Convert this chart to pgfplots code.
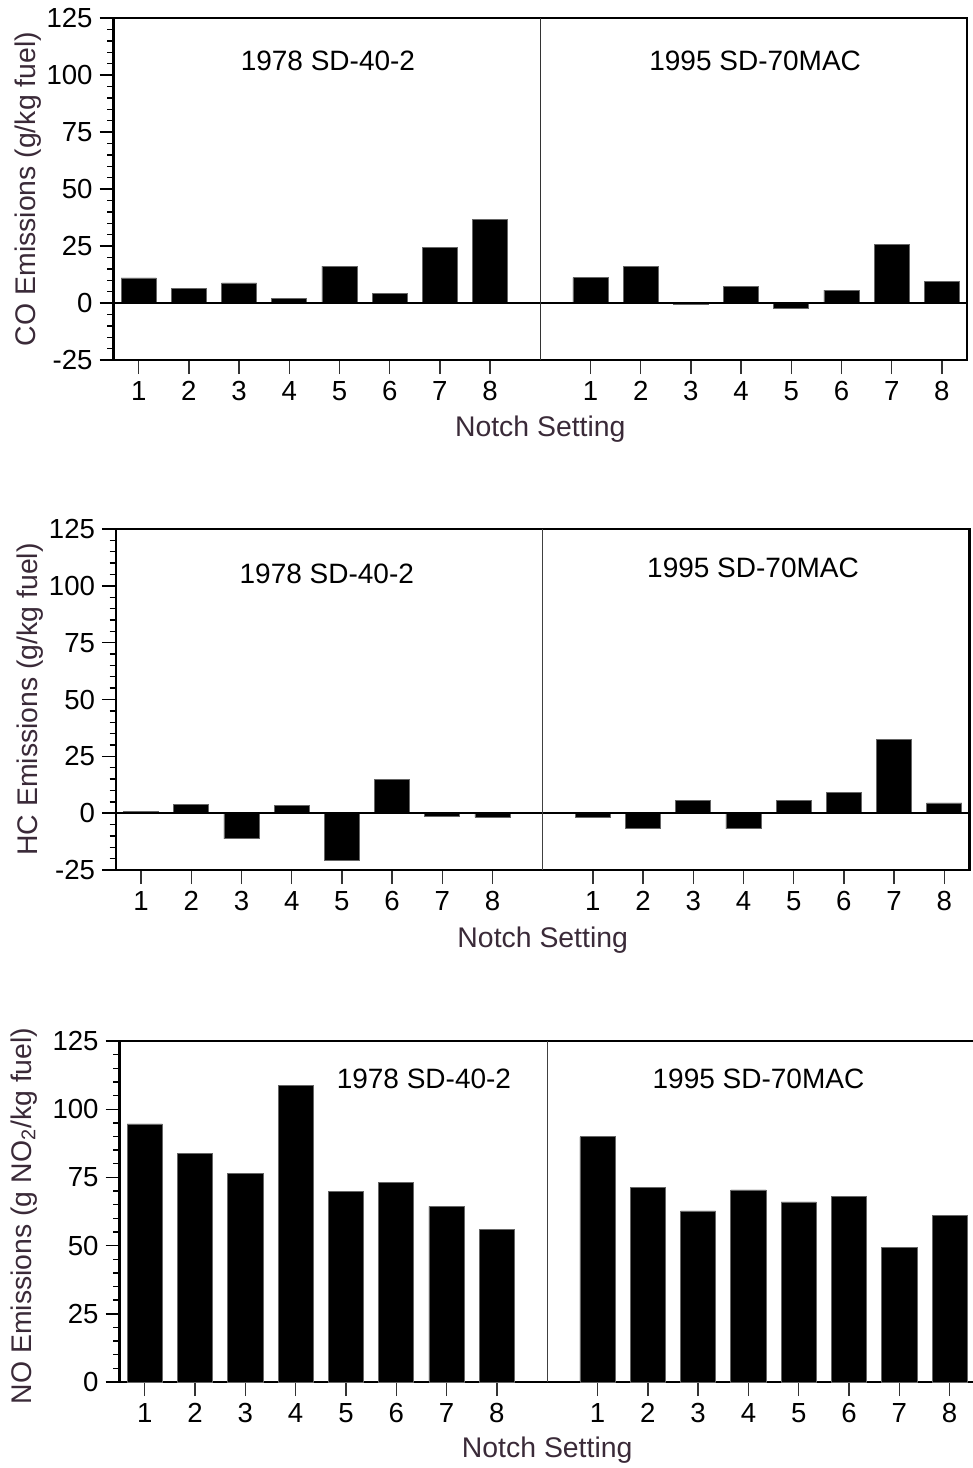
\documentclass[border=0pt]{standalone}
\usepackage{fontspec}
\setmainfont{Liberation Sans}
\usepackage{pgfplots}
\pgfplotsset{compat=1.18}
\definecolor{labcol}{RGB}{58,42,56}

\pgfplotstableread{
x  co    hc    no
1  11.0  0.9   94.6
2  6.3   3.7   83.7
3  8.8  -11.3  76.5
4  1.9   3.4   108.6
5  16.2 -20.7  70.0
6  4.1   14.7  73.1
7  24.4 -1.5   64.4
8  36.8 -1.8   56.0
10 11.1 -1.8   89.9
11 16.1 -6.9   71.3
12 -0.7  5.6   62.7
13 7.3  -6.9   70.4
14 -2.3  5.6   66.0
15 5.7   9.2   68.0
16 25.6  32.3  49.3
17 9.6   4.5   61.1
}\datatable

\newcommand{\tickfont}{\fontsize{13.8bp}{16bp}\selectfont}
\newcommand{\labfont}{\fontsize{14.2bp}{17bp}\selectfont}
\newcommand{\subfont}{\fontsize{14bp}{17bp}\selectfont}

\pgfplotsset{
  every tick label/.append style={font=\tickfont},
  panel/.style={
    scale only axis, width=426.7bp,
    xmin=0.5, xmax=17.5,
    xtick={1,2,3,4,5,6,7,8,10,11,12,13,14,15,16,17},
    xticklabels={1,2,3,4,5,6,7,8,1,2,3,4,5,6,7,8},
    tick align=outside, tick pos=left,
    major tick length=7bp, minor tick length=3.2bp,
    x tick style={line width=0.7bp, black!80},
    y tick style={line width=0.7bp, black},
    minor y tick num=4,
    axis line style={line width=1.3bp},
    /pgf/number format/assume math mode=true,
    xticklabel style={font=\tickfont},
    yticklabel style={font=\tickfont},
    label style={font=\labfont, text=labcol},
    xlabel={Notch Setting},
    ybar, bar width=0.7,
  },
  bars/.style={fill=black, draw=black!60, line width=0.4bp},
}

\begin{document}
\begin{tikzpicture}
\useasboundingbox (0,0) rectangle (486.5bp,-734bp);

% CO panel
\begin{axis}[panel, at={(56.8bp,-180bp)}, anchor=south west, height=171bp,
  ymin=-25, ymax=125, ytick={-25,0,25,50,75,100,125},
  ylabel={CO Emissions (g/kg fuel)},
  ylabel style={at={(axis description cs:-0.1003,0.5)}, anchor=center},
  xlabel style={at={(axis description cs:0.5,-0.202)}, anchor=center}]
  \addplot[bars] table[x=x, y=co] {\datatable};
  \draw[line width=1bp] (axis cs:0.5,0) -- (axis cs:17.5,0);
  \draw[line width=0.5bp, black!80] (axis cs:9,-25) -- (axis cs:9,125);
  \node[font=\subfont, anchor=center] at (axis cs:4.77,106) {1978 SD-40-2};
  \node[font=\subfont, anchor=center] at (axis cs:13.28,106) {1995 SD-70MAC};
\end{axis}

% HC panel
\begin{axis}[panel, at={(58bp,-435bp)}, anchor=south west, height=170.5bp,
  ymin=-25, ymax=125, ytick={-25,0,25,50,75,100,125},
  ylabel={HC Emissions (g/kg fuel)},
  ylabel style={at={(axis description cs:-0.1008,0.5)}, anchor=center},
  xlabel style={at={(axis description cs:0.5,-0.205)}, anchor=center}]
  \addplot[bars] table[x=x, y=hc] {\datatable};
  \draw[line width=1bp] (axis cs:0.5,0) -- (axis cs:17.5,0);
  \draw[line width=0.5bp, black!75] (axis cs:9,-25) -- (axis cs:9,125);
  \node[font=\subfont, anchor=center] at (axis cs:4.70,105.3) {1978 SD-40-2};
  \node[font=\subfont, anchor=center] at (axis cs:13.19,107.9) {1995 SD-70MAC};
\end{axis}

% NO panel
\begin{axis}[panel, at={(59.8bp,-691bp)}, anchor=south west, height=170.5bp,
  width=427.6bp,
  ymin=0, ymax=125, ytick={0,25,50,75,100,125},
  ylabel={NO Emissions (g NO\textsubscript{2}/kg fuel)},
  ylabel style={at={(axis description cs:-0.112,0.487)}, anchor=center},
  xlabel style={at={(axis description cs:0.5,-0.2)}, anchor=center}]
  \addplot[bars] table[x=x, y=no] {\datatable};
  \draw[line width=0.5bp, black!75] (axis cs:9,0) -- (axis cs:9,125);
  \node[font=\subfont, anchor=center] at (axis cs:6.55,111) {1978 SD-40-2};
  \node[font=\subfont, anchor=center] at (axis cs:13.2,111) {1995 SD-70MAC};
\end{axis}
\end{tikzpicture}
\end{document}
